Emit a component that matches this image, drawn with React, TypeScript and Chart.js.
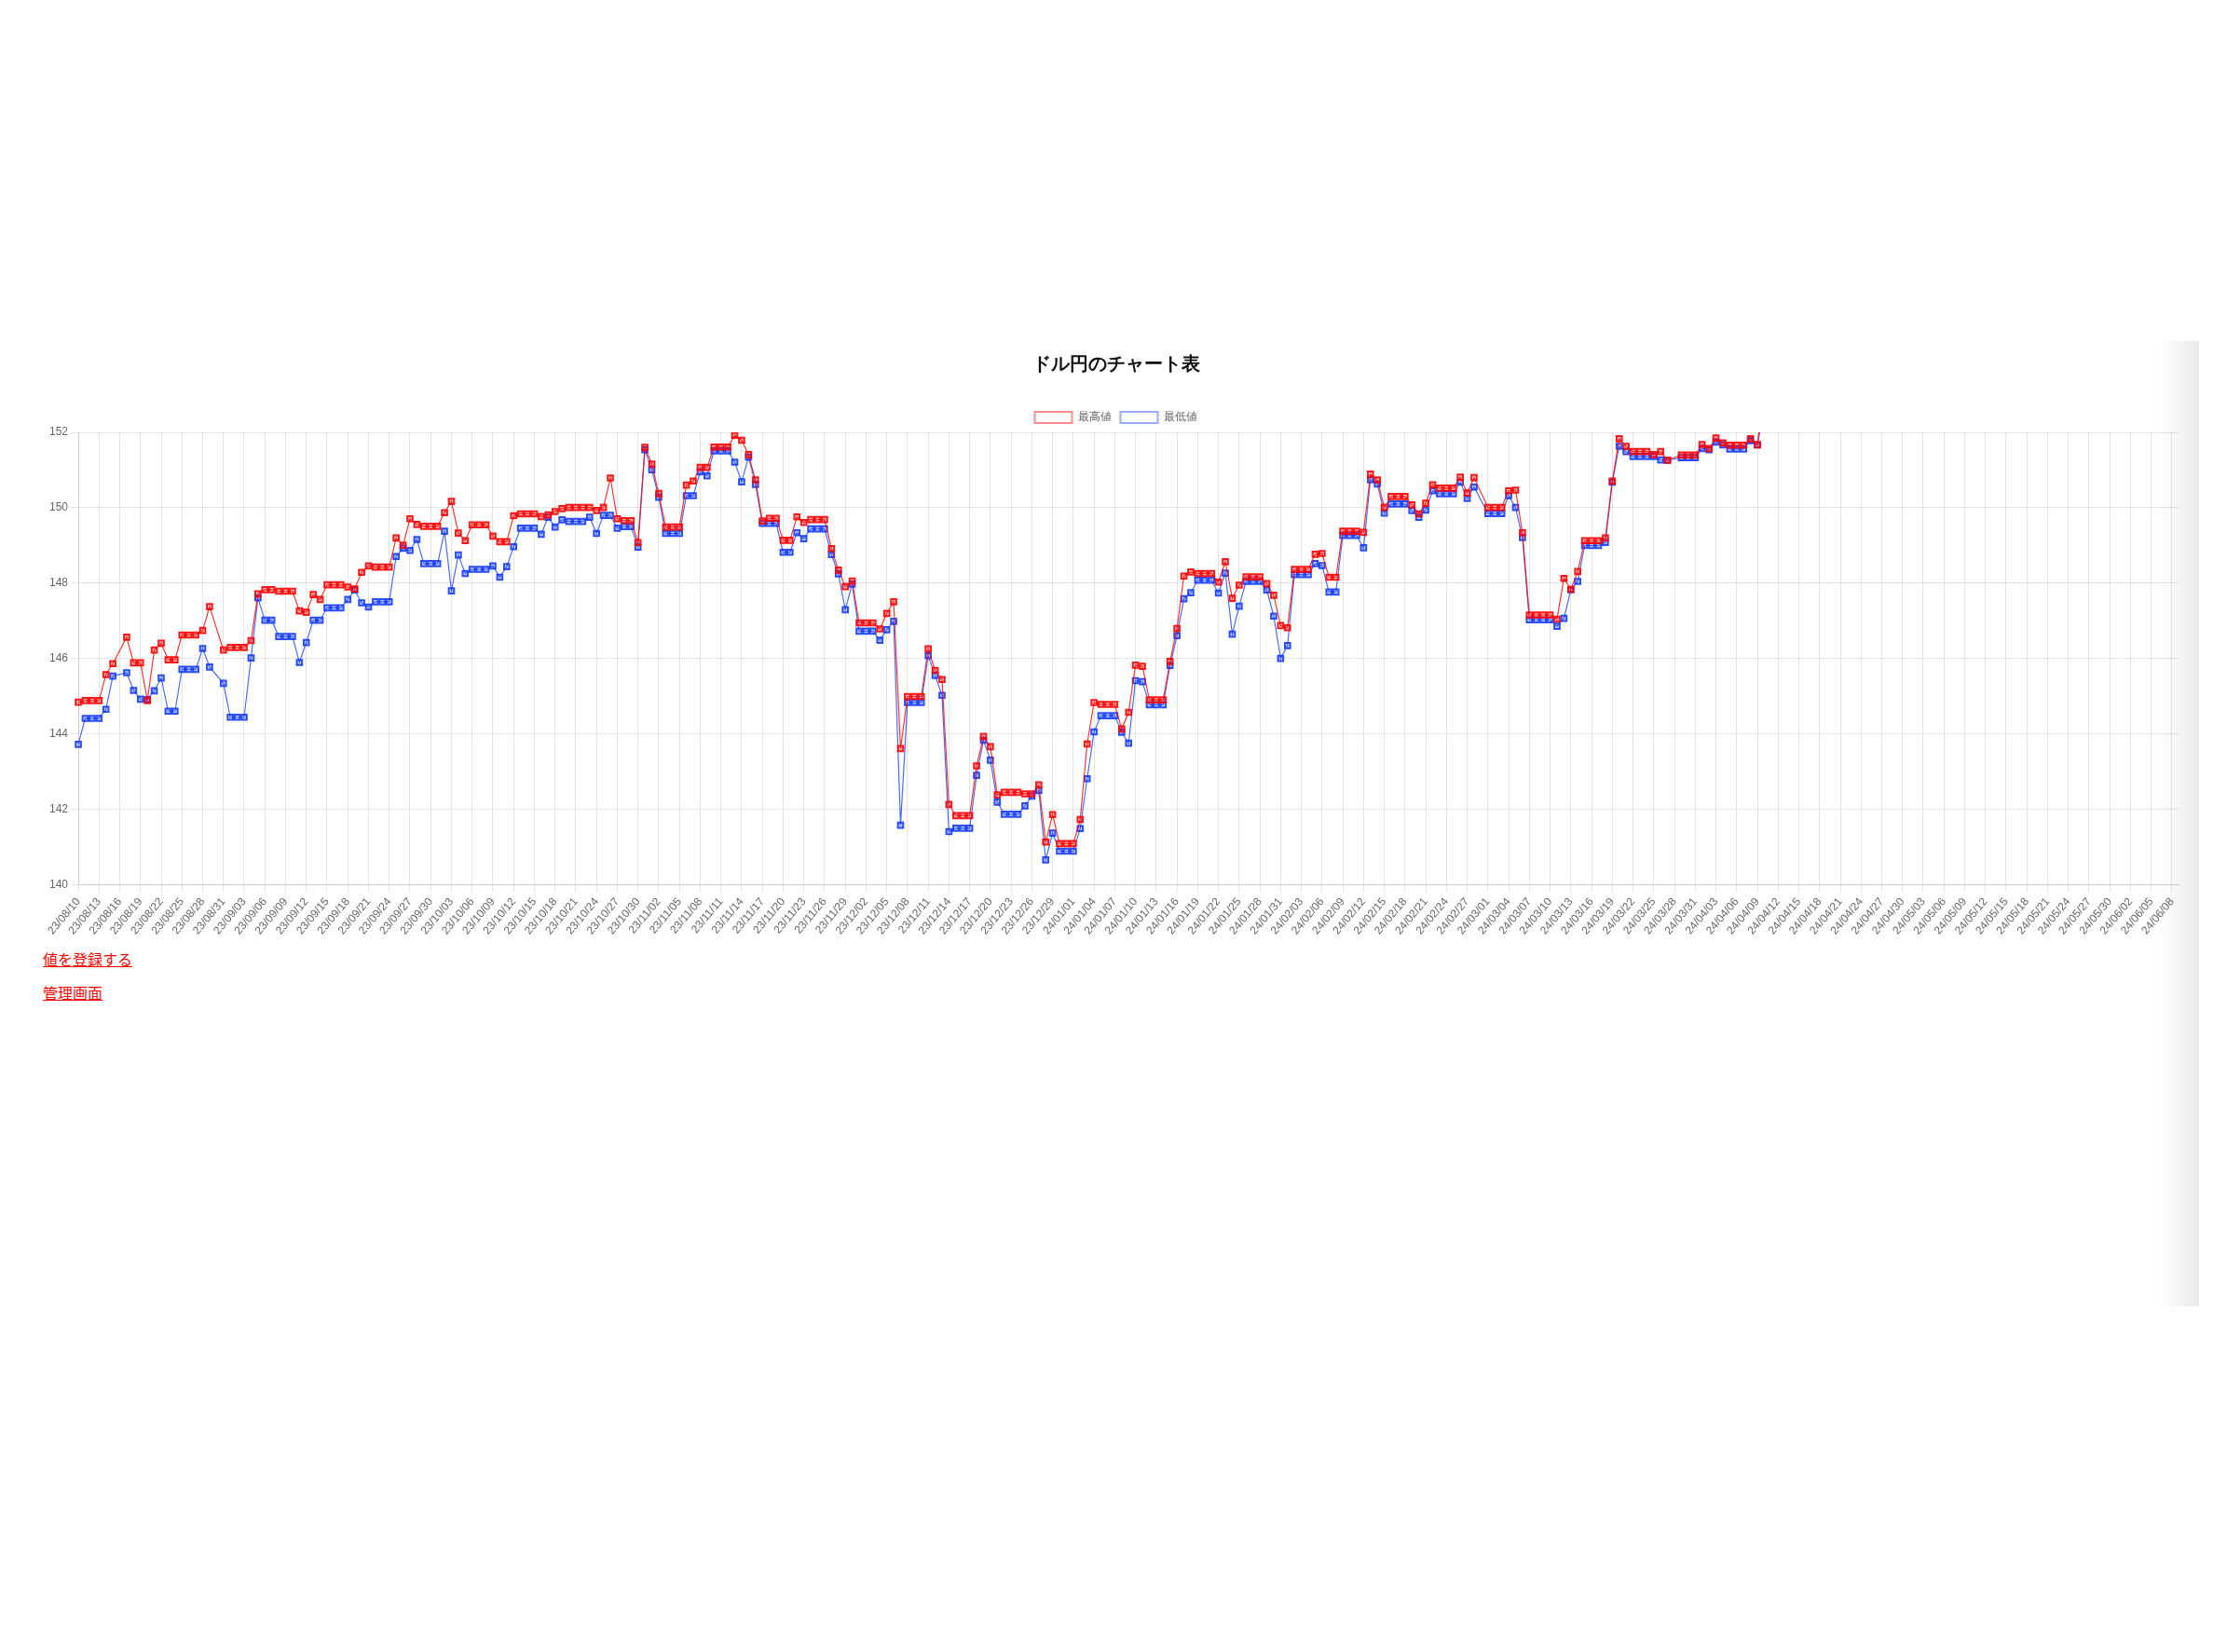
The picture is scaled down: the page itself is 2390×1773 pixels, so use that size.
import React, { useEffect, useRef } from "react";
import { Chart, registerables } from "chart.js";

Chart.register(...registerables);

const dateLabels: string[] = `
23/08/10 23/08/11 23/08/12 23/08/13 23/08/14 23/08/15 23/08/16 23/08/17 23/08/18 23/08/19 23/08/20 23/08/21 23/08/22 23/08/23 23/08/24 23/08/25 23/08/26 23/08/27 23/08/28 23/08/29 23/08/30 23/08/31
23/09/01 23/09/02 23/09/03 23/09/04 23/09/05 23/09/06 23/09/07 23/09/08 23/09/09 23/09/10 23/09/11 23/09/12 23/09/13 23/09/14 23/09/15 23/09/16 23/09/17 23/09/18 23/09/19 23/09/20 23/09/21 23/09/22 23/09/23 23/09/24 23/09/25 23/09/26 23/09/27 23/09/28 23/09/29 23/09/30
23/10/01 23/10/02 23/10/03 23/10/04 23/10/05 23/10/06 23/10/07 23/10/08 23/10/09 23/10/10 23/10/11 23/10/12 23/10/13 23/10/14 23/10/15 23/10/16 23/10/17 23/10/18 23/10/19 23/10/20 23/10/21 23/10/22 23/10/23 23/10/24 23/10/25 23/10/26 23/10/27 23/10/28 23/10/29 23/10/30 23/10/31
23/11/01 23/11/02 23/11/03 23/11/04 23/11/05 23/11/06 23/11/07 23/11/08 23/11/09 23/11/10 23/11/11 23/11/12 23/11/13 23/11/14 23/11/15 23/11/16 23/11/17 23/11/18 23/11/19 23/11/20 23/11/21 23/11/22 23/11/23 23/11/24 23/11/25 23/11/26 23/11/27 23/11/28 23/11/29 23/11/30
23/12/01 23/12/02 23/12/03 23/12/04 23/12/05 23/12/06 23/12/07 23/12/08 23/12/09 23/12/10 23/12/11 23/12/12 23/12/13 23/12/14 23/12/15 23/12/16 23/12/17 23/12/18 23/12/19 23/12/20 23/12/21 23/12/22 23/12/23 23/12/24 23/12/25 23/12/26 23/12/27 23/12/28 23/12/29 23/12/30 23/12/31
24/01/01 24/01/02 24/01/03 24/01/04 24/01/05 24/01/06 24/01/07 24/01/08 24/01/09 24/01/10 24/01/11 24/01/12 24/01/13 24/01/14 24/01/15 24/01/16 24/01/17 24/01/18 24/01/19 24/01/20 24/01/21 24/01/22 24/01/23 24/01/24 24/01/25 24/01/26 24/01/27 24/01/28 24/01/29 24/01/30 24/01/31
24/02/01 24/02/02 24/02/03 24/02/04 24/02/05 24/02/06 24/02/07 24/02/08 24/02/09 24/02/10 24/02/11 24/02/12 24/02/13 24/02/14 24/02/15 24/02/16 24/02/17 24/02/18 24/02/19 24/02/20 24/02/21 24/02/22 24/02/23 24/02/24 24/02/25 24/02/26 24/02/27 24/02/28 24/02/29
24/03/01 24/03/02 24/03/03 24/03/04 24/03/05 24/03/06 24/03/07 24/03/08 24/03/09 24/03/10 24/03/11 24/03/12 24/03/13 24/03/14 24/03/15 24/03/16 24/03/17 24/03/18 24/03/19 24/03/20 24/03/21 24/03/22 24/03/23 24/03/24 24/03/25 24/03/26 24/03/27 24/03/28 24/03/29 24/03/30 24/03/31
24/04/01 24/04/02 24/04/03 24/04/04 24/04/05 24/04/06 24/04/07 24/04/08 24/04/09 24/04/10 24/04/11 24/04/12 24/04/13 24/04/14 24/04/15 24/04/16 24/04/17 24/04/18 24/04/19 24/04/20 24/04/21 24/04/22 24/04/23 24/04/24 24/04/25 24/04/26 24/04/27 24/04/28 24/04/29 24/04/30
24/05/01 24/05/02 24/05/03 24/05/04 24/05/05 24/05/06 24/05/07 24/05/08 24/05/09 24/05/10 24/05/11 24/05/12 24/05/13 24/05/14 24/05/15 24/05/16 24/05/17 24/05/18 24/05/19 24/05/20 24/05/21 24/05/22 24/05/23 24/05/24 24/05/25 24/05/26 24/05/27 24/05/28 24/05/29 24/05/30 24/05/31
24/06/01 24/06/02 24/06/03 24/06/04 24/06/05 24/06/06 24/06/07 24/06/08 24/06/09
`.trim().split(/\s+/);

// 最高値 (daily high), one entry per label; null = no entry
const highValues: (number | null)[] = [
  // Aug
  144.85, 144.89, 144.89, 144.89, 145.58, 145.87, null, 146.57, 145.89, 145.89, 144.89, 146.23, 146.41, 145.97, 145.97, 146.63, 146.63, 146.63, 146.75, 147.38, null, 146.23,
  // Sep
  146.30, 146.30, 146.30, 146.48, 147.72, 147.83, 147.83, 147.79, 147.79, 147.79, 147.27, 147.23, 147.70, 147.57, 147.96, 147.96, 147.96, 147.90, 147.85, 148.29, 148.46, 148.43, 148.43, 148.43, 149.20, 149.01, 149.71, 149.56, 149.51, 149.51,
  // Oct
  149.51, 149.87, 150.17, 149.33, 149.13, 149.55, 149.55, 149.55, 149.25, 149.10, 149.10, 149.79, 149.84, 149.84, 149.84, 149.77, 149.81, 149.90, 149.98, 150.01, 150.01, 150.01, 150.01, 149.93, 150.01, 150.79, 149.71, 149.66, 149.66, 149.08, 151.60,
  // Nov
  151.16, 150.38, 149.49, 149.49, 149.49, 150.60, 150.71, 151.07, 151.07, 151.61, 151.61, 151.61, 151.92, 151.79, 151.41, 150.74, 149.65, 149.72, 149.72, 149.14, 149.14, 149.76, 149.61, 149.69, 149.69, 149.69, 148.92, 148.35, 147.91, 148.06,
  // Dec
  146.95, 146.95, 146.95, 146.79, 147.20, 147.51, 143.62, 145.00, 145.00, 145.00, 146.26, 145.69, 145.45, 142.14, 141.84, 141.84, 141.84, 143.16, 143.94, 143.67, 142.39, 142.46, 142.46, 142.46, 142.42, 142.42, 142.66, 141.14, 141.87, 141.10, 141.10,
  // Jan
  141.10, 141.74, 143.74, 144.84, 144.79, 144.79, 144.79, 144.14, 144.58, 145.83, 145.80, 144.91, 144.91, 144.91, 145.93, 146.80, 148.19, 148.30, 148.26, 148.26, 148.26, 148.03, 148.57, 147.60, 147.95, 148.17, 148.17, 148.17, 147.99, 147.68, 146.88,
  // Feb
  146.82, 148.37, 148.37, 148.37, 148.77, 148.79, 148.16, 148.16, 149.38, 149.38, 149.38, 149.35, 150.89, 150.74, 150.01, 150.30, 150.30, 150.30, 150.08, 149.84, 150.12, 150.61, 150.52, 150.52, 150.52, 150.81, 150.39, 150.80, null,
  // Mar
  150.01, 150.01, 150.01, 150.45, 150.47, 149.34, 147.16, 147.16, 147.16, 147.16, 147.05, 148.13, 147.84, 148.31, 149.13, 149.13, 149.13, 149.20, 150.71, 151.83, 151.63, 151.49, 151.49, 151.49, 151.41, 151.49, 151.26, null, 151.40, 151.40, 151.40,
  // Apr
  151.68, 151.57, 151.85, 151.72, 151.66, 151.66, 151.66, 151.83, 151.67, 153.2,
];

// 最低値 (daily low)
const lowValues: (number | null)[] = [
  // Aug
  143.73, 144.42, 144.42, 144.42, 144.66, 145.54, null, 145.63, 145.16, 144.93, 144.92, 145.15, 145.49, 144.61, 144.61, 145.72, 145.72, 145.72, 146.27, 145.78, null, 145.35,
  // Sep
  144.45, 144.45, 144.45, 146.02, 147.61, 147.02, 147.02, 146.59, 146.59, 146.59, 145.90, 146.43, 147.02, 147.02, 147.35, 147.35, 147.35, 147.57, 147.82, 147.48, 147.37, 147.51, 147.51, 147.51, 148.71, 148.93, 148.87, 149.16, 148.52, 148.52,
  // Oct
  148.52, 149.38, 147.80, 148.75, 148.26, 148.37, 148.37, 148.37, 148.46, 148.16, 148.44, 148.97, 149.46, 149.46, 149.46, 149.30, 149.75, 149.49, 149.68, 149.64, 149.64, 149.64, 149.75, 149.32, 149.80, 149.80, 149.46, 149.50, 149.50, 148.96, 151.54,
  // Nov
  151.01, 150.28, 149.32, 149.32, 149.32, 150.32, 150.32, 150.95, 150.85, 151.51, 151.51, 151.51, 151.21, 150.69, 151.34, 150.62, 149.59, 149.59, 149.59, 148.82, 148.82, 149.34, 149.18, 149.44, 149.44, 149.44, 148.76, 148.25, 147.30, 147.98,
  // Dec
  146.73, 146.73, 146.73, 146.49, 146.77, 146.99, 141.59, 144.84, 144.84, 144.84, 146.08, 145.56, 145.03, 141.42, 141.51, 141.51, 141.51, 142.91, 143.84, 143.31, 142.20, 141.88, 141.88, 141.88, 142.10, 142.36, 142.51, 140.67, 141.38, 140.90, 140.90,
  // Jan
  140.90, 141.50, 142.82, 144.06, 144.49, 144.49, 144.49, 144.05, 143.76, 145.42, 145.39, 144.78, 144.78, 144.78, 145.82, 146.61, 147.59, 147.75, 148.08, 148.08, 148.08, 147.74, 148.27, 146.65, 147.39, 148.05, 148.05, 148.05, 147.82, 147.13, 146.01,
  // Feb
  146.35, 148.23, 148.23, 148.23, 148.52, 148.47, 147.77, 147.77, 149.27, 149.27, 149.27, 148.94, 150.74, 150.63, 149.86, 150.10, 150.10, 150.10, 149.93, 149.75, 149.94, 150.45, 150.37, 150.37, 150.37, 150.68, 150.25, 150.55, null,
  // Mar
  149.85, 149.85, 149.85, 150.32, 150.01, 149.21, 147.03, 147.03, 147.03, 147.03, 146.86, 147.07, 147.83, 148.05, 149.00, 149.00, 149.00, 149.08, 150.68, 151.63, 151.49, 151.36, 151.36, 151.36, 151.36, 151.27, 151.26, null, 151.33, 151.33, 151.33,
  // Apr
  151.57, 151.54, 151.74, 151.67, 151.56, 151.56, 151.56, 151.78, 151.67, 152.6,
];

const seriesNames = ["最高値", "最低値"];
const yTicks = { min: 140, max: 152, step: 2 };

const legendStroke = ["rgba(255,0,0,0.45)", "rgba(30,70,255,0.45)"];

function ChartCanvas() {
  const ref = useRef<HTMLCanvasElement | null>(null);
  useEffect(() => {
    if (!ref.current) return;
    const chart = new Chart(ref.current, {
      type: "line",
      data: {
        labels: dateLabels,
        datasets: [
          {
            label: seriesNames[0],
            data: highValues,
            borderColor: "rgba(255,0,0,0.8)",
            backgroundColor: "rgba(255,255,255,0)",
            borderWidth: 1.2,
            pointStyle: "rect",
            pointRadius: 4,
            pointBorderColor: "rgba(255,0,0,0.9)",
            pointBackgroundColor: "rgba(255,0,0,0.25)",
            pointBorderWidth: 2,
            spanGaps: true,
            tension: 0,
          },
          {
            label: seriesNames[1],
            data: lowValues,
            borderColor: "rgba(30,70,255,0.8)",
            backgroundColor: "rgba(255,255,255,0)",
            borderWidth: 1.2,
            pointStyle: "rect",
            pointRadius: 4,
            pointBorderColor: "rgba(20,60,255,0.9)",
            pointBackgroundColor: "rgba(20,60,255,0.25)",
            pointBorderWidth: 2,
            spanGaps: true,
            tension: 0,
          },
        ],
      },
      options: {
        animation: false,
        responsive: true,
        maintainAspectRatio: false,
        plugins: {
          title: {
            display: true,
            text: "ドル円のチャート表",
            color: "#111",
            font: { size: 20, weight: "bold" },
            padding: { top: 10, bottom: 29 },
          },
          legend: {
            display: true,
            labels: {
              color: "#666",
              font: { size: 12 },
              generateLabels: (c: any) =>
                Chart.defaults.plugins.legend.labels.generateLabels(c).map((item: any, i: number) => ({
                  ...item,
                  lineWidth: 2,
                  strokeStyle: legendStroke[i],
                  fillStyle: "rgba(255,255,255,0)",
                })),
            },
          },
          tooltip: { enabled: false },
        },
        scales: {
          x: {
            grid: { color: "rgba(0,0,0,0.1)" },
            ticks: {
              autoSkip: false,
              maxRotation: 50,
              color: "#666",
              font: { size: 12 },
              callback: (_v: any, i: number) => (i % 3 === 0 ? dateLabels[i] : null),
            },
          },
          y: {
            min: yTicks.min,
            max: yTicks.max,
            grid: { color: "rgba(0,0,0,0.1)" },
            ticks: { stepSize: yTicks.step, color: "#666", font: { size: 12 } },
          },
        },
      },
    });
    return () => chart.destroy();
  }, []);
  return (
    <div style={{ position: "relative", width: 2295, height: 640 }}>
      <canvas ref={ref} />
    </div>
  );
}

export default function App() {
  return (
    <div>
      <div
        style={{
          position: "fixed",
          left: 2317,
          top: 366,
          width: 43,
          height: 1036,
          background: "linear-gradient(to right, rgba(0,0,0,0), rgba(0,0,0,0.08))",
          pointerEvents: "none",
        }}
      />
      <div style={{ paddingTop: 361, marginLeft: 42 }}>
        <ChartCanvas />
        <div style={{ fontFamily: "'Noto Sans CJK JP', sans-serif", fontSize: 16, marginLeft: -4 }}>
          <p style={{ margin: "8px 0 0 0" }}>
            <a href="#" style={{ color: "#ff0000" }}>値を登録する</a>
          </p>
          <p style={{ margin: "12px 0 0 0" }}>
            <a href="#" style={{ color: "#ff0000" }}>管理画面</a>
          </p>
        </div>
      </div>
    </div>
  );
}
